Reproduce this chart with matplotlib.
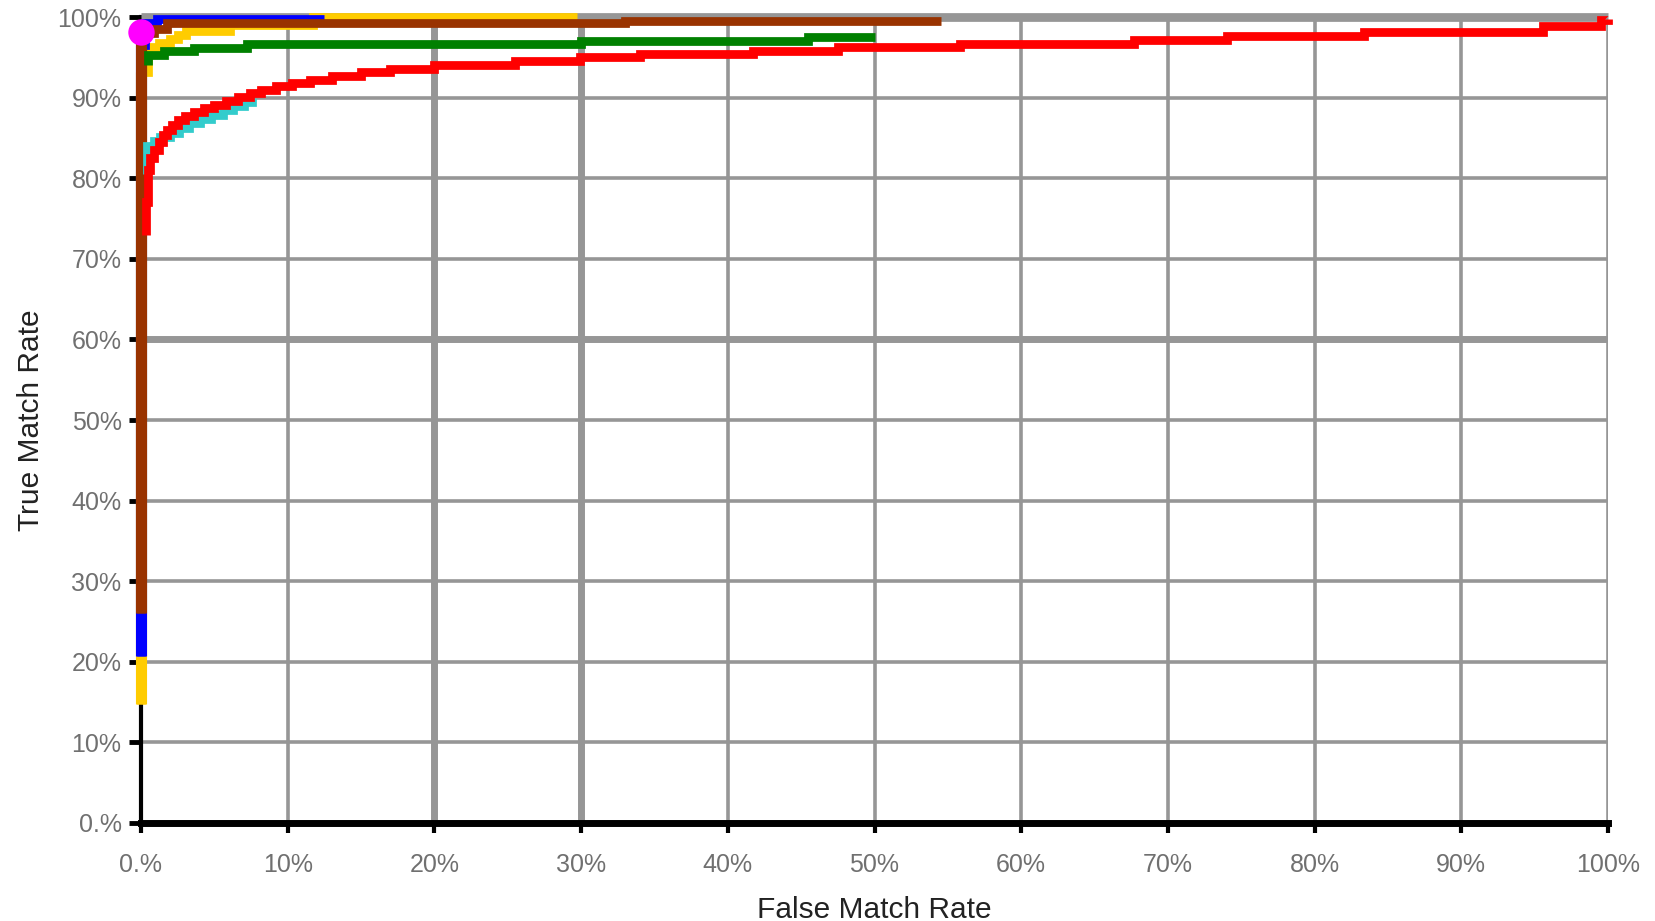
import matplotlib
matplotlib.use("Agg")
import matplotlib.pyplot as plt

plt.rcParams['font.family'] = ['Liberation Sans', 'DejaVu Sans']

# tick positions / labels (percent)
ticks = [0, 10, 20, 30, 40, 50, 60, 70, 80, 90, 100]
tick_labels = ["0.%", "10%", "20%", "30%", "40%", "50%", "60%", "70%", "80%", "90%", "100%"]

# ROC-style curves: False Match Rate (x) vs True Match Rate (y), in percent
gray_x = [0, 100]
gray_y = [100, 100]

yellow_x = [0, 0, 0.5, 1.2, 2.0, 2.5, 3.1, 6.1, 11.7, 29.7]
yellow_y = [14.8, 93.2, 96.3, 96.8, 97.3, 97.8, 98.3, 99.0, 100, 100]

blue_x = [0, 0, 0.3, 1.1, 12.5]
blue_y = [20.7, 96.5, 99.3, 99.7, 99.7]

brown_x = [0, 0, 0.9, 1.8, 33.0, 54.5]
brown_y = [26, 98.0, 98.5, 99.2, 99.5, 99.5]

green_x = [0.5, 0.5, 1.6, 3.6, 7.2, 30, 45.5, 50]
green_y = [94.0, 95.3, 95.8, 96.2, 96.7, 97.0, 97.5, 97.5]

cyan_x = [0.4, 0.4, 0.9, 1.3, 2.0, 2.6, 3.3, 4.0, 4.8, 5.6, 6.3, 7.0, 7.6, 7.8]
cyan_y = [80.5, 84.0, 84.6, 85.1, 85.6, 86.2, 86.8, 87.4, 87.9, 88.4, 88.9, 89.4, 89.9, 89.9]

red_x = [0.35, 0.35, 0.45, 0.6, 0.9, 1.2, 1.5, 1.8, 2.1, 2.5, 3.0, 3.6, 4.3, 5.0, 5.8,
         6.6, 7.4, 8.2, 9.2, 10.3, 11.5, 13.0, 15.0, 17.0, 20.0, 25.5, 29.9, 34.0,
         41.7, 47.5, 55.8, 67.7, 74.0, 83.4, 95.6, 99.5, 100]
red_y = [73, 77, 81, 82.5, 83.5, 84.5, 85.3, 86.0, 86.6, 87.2, 87.7, 88.2, 88.7, 89.1, 89.6,
         90.1, 90.6, 91.0, 91.4, 91.8, 92.2, 92.7, 93.2, 93.6, 94.0, 94.5, 95.0, 95.4,
         95.8, 96.3, 96.6, 97.2, 97.6, 98.1, 98.9, 99.6, 99.7]

point_x = [0]
point_y = [98.2]

fig = plt.figure(figsize=(16.56, 9.21), dpi=100)
ax = fig.add_axes([141/1656, 1 - 823/921, (1608 - 141)/1656, (823 - 17)/921])

# grid drawn by hand so a few lines can be heavier, like the source image
grid_c = '#969696'
thick_v = [20, 30]
thick_h = [60]
for t in ticks[1:]:
    ax.axvline(t, color=grid_c, lw=5 if t in thick_v else 2.6, zorder=1)
    ax.axhline(t, color=grid_c, lw=5 if t in thick_h else 2.6, zorder=1)

series = [
    (gray_x, gray_y, '#969696'),
    (yellow_x, yellow_y, '#FFCC00'),
    (blue_x, blue_y, '#0000FF'),
    (brown_x, brown_y, '#993300'),
    (green_x, green_y, '#008000'),
    (cyan_x, cyan_y, '#33CCCC'),
    (red_x, red_y, '#FF0000'),
]
z = 3
for xs, ys, c in series:
    ax.plot(xs, ys, drawstyle='steps-post', color=c, lw=6.3,
            solid_capstyle='butt', solid_joinstyle='miter', clip_on=False, zorder=z)
    # vertical rise on the axis is drawn heavier in the source
    if xs[0] == xs[1] == 0:
        ax.plot(xs[:2], ys[:2], color=c, lw=8, solid_capstyle='butt',
                clip_on=False, zorder=z)
    z += 1

ax.plot(point_x, point_y, 'o', color='#FF00FF', ms=19, mec='none', clip_on=False, zorder=z)

ax.set_xlim(0, 100)
ax.set_ylim(0, 100)
ax.set_xticks(ticks)
ax.set_xticklabels(tick_labels)
ax.set_yticks(ticks)
ax.set_yticklabels(tick_labels)

for s in ['top', 'right']:
    ax.spines[s].set_visible(False)
ax.spines['left'].set_linewidth(3)
ax.spines['bottom'].set_linewidth(5)
ax.spines['left'].set_zorder(2)
ax.spines['bottom'].set_zorder(2.5)

ax.tick_params(axis='x', direction='out', length=7.5, width=3, pad=14,
               labelsize=18, labelcolor='#707070', color='black')
ax.tick_params(axis='y', direction='out', length=9, width=3.5, pad=5,
               labelsize=18, labelcolor='#707070', color='black')

ax.set_xlabel('False Match Rate', fontsize=21.5, color='#222222', labelpad=14)
ax.set_ylabel('True Match Rate', fontsize=21.5, color='#222222', labelpad=9)

fig.savefig('out.png', dpi=100, facecolor='white')
